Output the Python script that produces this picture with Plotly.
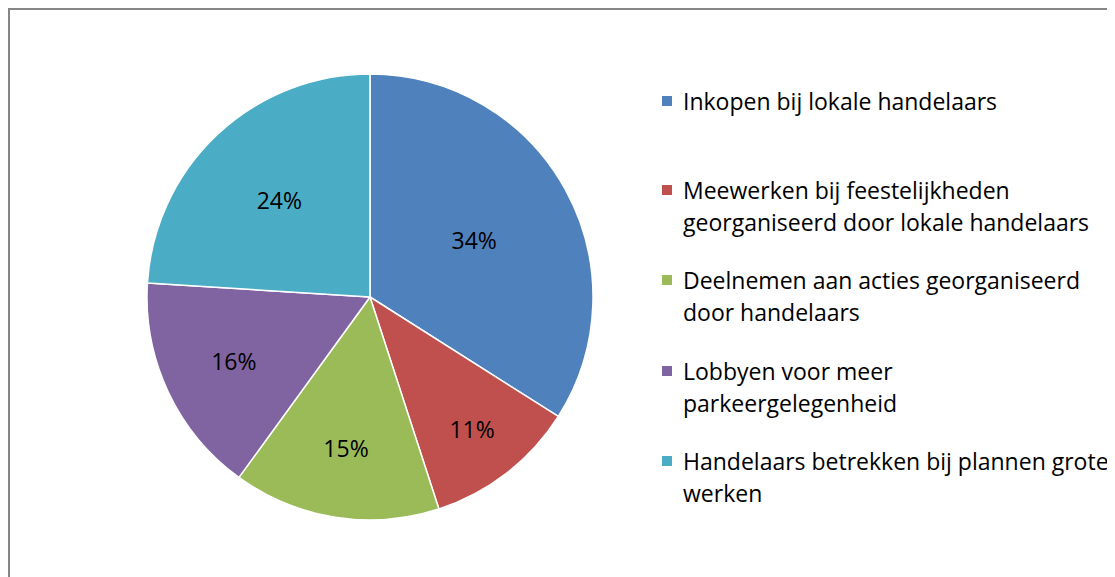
import plotly.graph_objects as go

W, H = 1115, 577
OFF = 8  # the page body adds an 8px margin around the figure

labels = [
    'Inkopen bij lokale handelaars',
    'Meewerken bij feestelijkheden<br>georganiseerd door lokale handelaars',
    'Deelnemen aan acties georganiseerd<br>door handelaars',
    'Lobbyen voor meer<br>parkeergelegenheid',
    'Handelaars betrekken bij plannen grote<br>werken',
]
values = [34, 11, 15, 16, 24]
colors = ['#4F81BD', '#C0504D', '#9BBB59', '#8064A2', '#4BACC6']

FONT = 'Open Sans'
FSIZE = 23


def px(x):
    return (x - OFF) / W


def py(y):
    return 1 - (y - OFF) / H


fig = go.Figure()

# pie: centre (370, 297), radius 223 px in page coordinates
fig.add_trace(go.Pie(
    labels=labels,
    values=values,
    sort=False,
    direction='clockwise',
    rotation=0,
    marker=dict(colors=colors, line=dict(color='white', width=1.5)),
    texttemplate='%{value}%',
    textposition='inside',
    insidetextorientation='horizontal',
    textfont=dict(family=FONT, size=FSIZE, color='black'),
    showlegend=False,
    hoverinfo='label+percent',
    domain=dict(x=[px(147), px(593)], y=[py(520), py(74)]),
))

# legend drawn by hand so the spacing matches
item_y = [101, 190, 280, 371, 461]
line_gap = 32
shapes = [dict(type='rect', xref='paper', yref='paper',
               x0=1 / W, x1=1.1, y0=-0.1, y1=1 - 1 / H,
               line=dict(color='#868686', width=2), fillcolor='rgba(0,0,0,0)')]
annotations = []
for lab, col, y in zip(labels, colors, item_y):
    shapes.append(dict(type='rect', xref='paper', yref='paper',
                       x0=px(662), x1=px(672), y0=py(y + 5), y1=py(y - 5),
                       line=dict(width=0), fillcolor=col))
    for i, line in enumerate(lab.split('<br>')):
        annotations.append(dict(
            text=line, xref='paper', yref='paper', showarrow=False,
            x=px(681), y=py(y + i * line_gap),
            xanchor='left', yanchor='middle',
            font=dict(family=FONT, size=FSIZE, color='black'),
        ))

fig.update_layout(
    width=W,
    height=H,
    margin=dict(l=0, r=0, t=0, b=0),
    paper_bgcolor='white',
    plot_bgcolor='white',
    shapes=shapes,
    annotations=annotations,
)

fig.write_html('out.html')
